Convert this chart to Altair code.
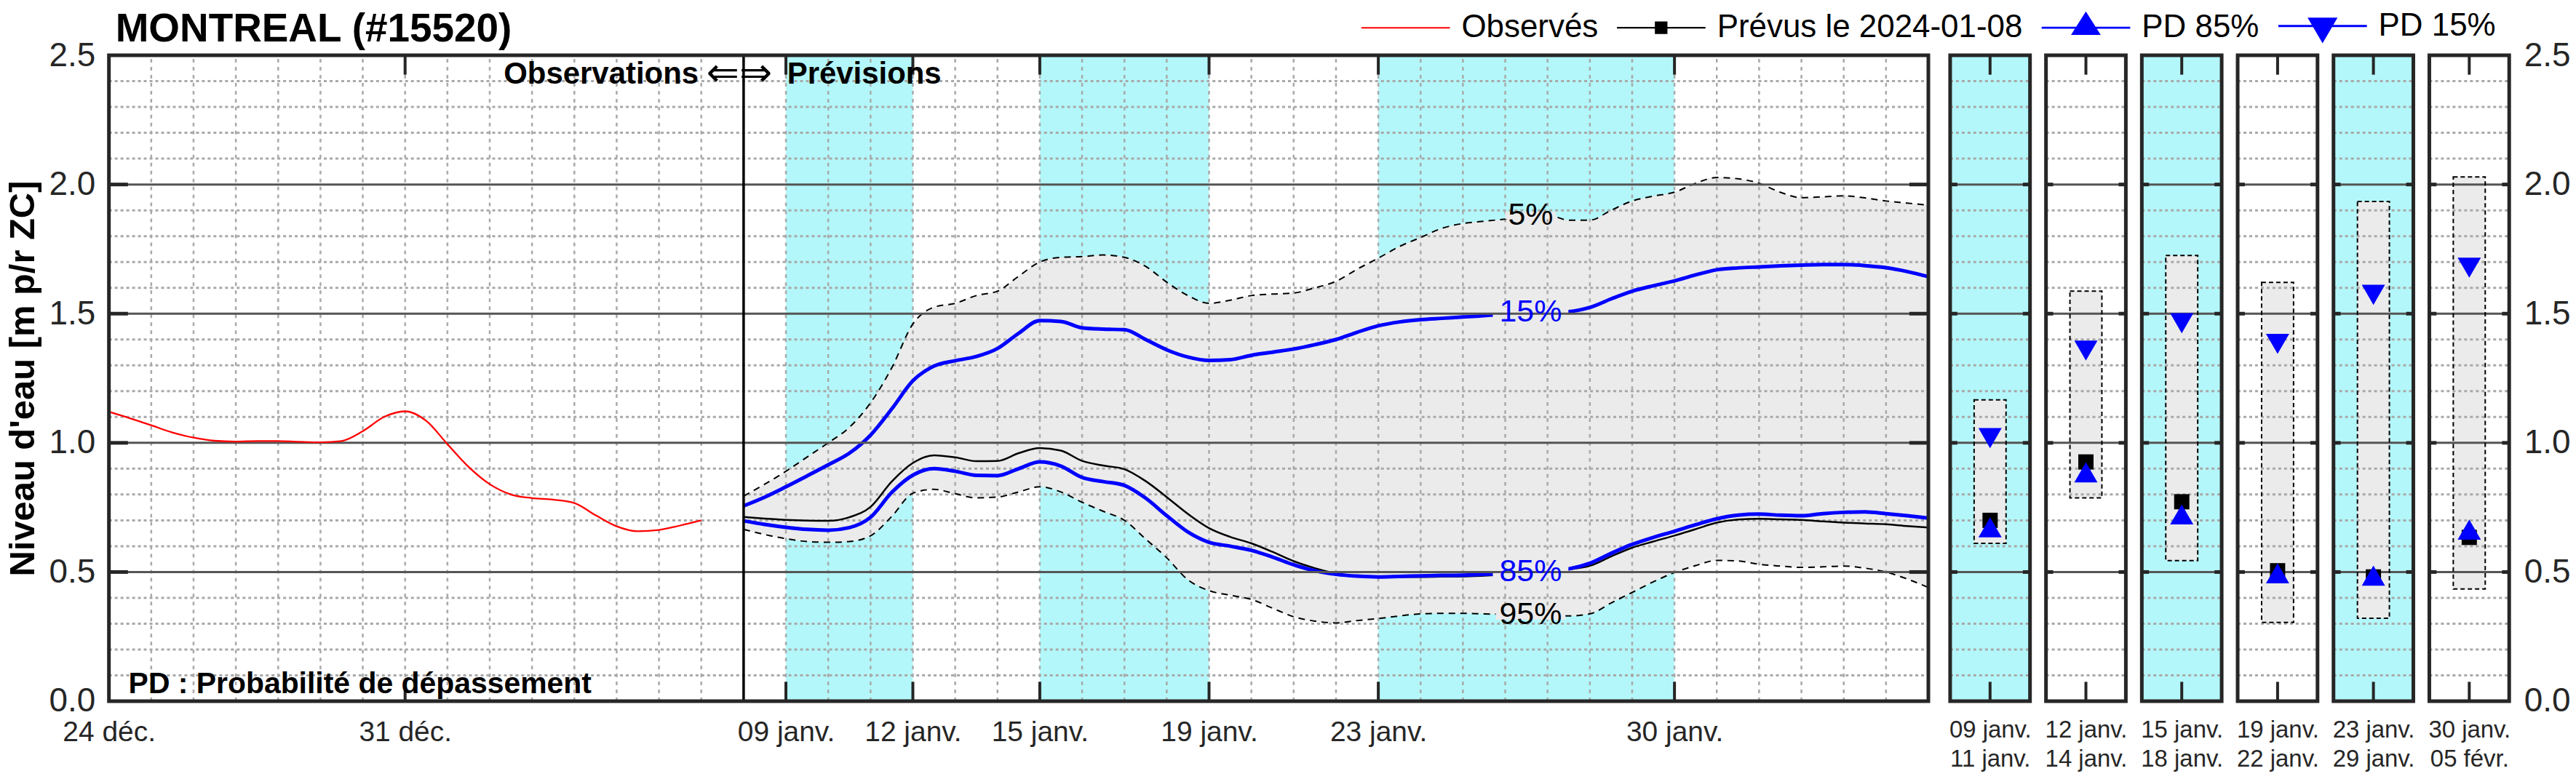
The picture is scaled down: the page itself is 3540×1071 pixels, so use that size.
import altair as alt
import pandas as pd

FONT = "Liberation Sans"
CYAN = "#b3f7fa"
GRAYFILL = "#ebebeb"
FRAME = "#262626"
BLUE = "#0000ff"

station_title = "MONTREAL (#15520)"
y_title = "Niveau d'eau [m p/r ZC]"

# ---- x ticks (days counted from 2023-12-24) ----
tick_days = [0, 7, 16, 19, 22, 26, 30, 37]
tick_labels = ["24 déc.", "31 déc.", "09 janv.", "12 janv.", "15 janv.", "19 janv.", "23 janv.", "30 janv."]
band_start = [16, 22, 30]
band_end = [19, 26, 37]
forecast_start_day = 15
x_end_day = 43

# ---- observed water level ----
obs_day = [0, 0.5, 1, 1.5, 2, 2.5, 3, 3.5, 4, 4.5, 5, 5.5, 6, 6.5, 7, 7.5, 8, 8.5, 9, 9.5,
           10, 10.5, 11, 11.5, 12, 12.5, 13, 13.5, 14]
obs_level = [1.12, 1.095, 1.068, 1.04, 1.02, 1.008, 1.005, 1.007, 1.007, 1.004, 1.002, 1.007,
             1.045, 1.10, 1.122, 1.085, 0.995, 0.907, 0.84, 0.80, 0.786, 0.78, 0.767, 0.72,
             0.677, 0.658, 0.663, 0.68, 0.70]

# ---- forecast (issued 2024-01-08), every 12 h ----
fc_day = [forecast_start_day + 0.5 * i for i in range(57)]
p5 = [0.794, 0.84, 0.89, 0.945, 1.0, 1.06, 1.155, 1.29, 1.46, 1.525, 1.54, 1.57, 1.587, 1.645,
      1.70, 1.718, 1.721, 1.727, 1.718, 1.683, 1.622, 1.57, 1.54, 1.552, 1.57, 1.576, 1.58, 1.60,
      1.625, 1.672, 1.715, 1.76, 1.795, 1.83, 1.849, 1.858, 1.866, 1.875, 1.882, 1.862, 1.862,
      1.90, 1.936, 1.955, 1.97, 2.005, 2.027, 2.022, 2.005, 1.97, 1.949, 1.952, 1.956, 1.948,
      1.936, 1.928, 1.92]
p15 = [0.756, 0.79, 0.83, 0.872, 0.915, 0.96, 1.03, 1.131, 1.24, 1.297, 1.318, 1.334, 1.365,
       1.424, 1.473, 1.47, 1.445, 1.44, 1.438, 1.40, 1.36, 1.332, 1.319, 1.322, 1.339, 1.351,
       1.363, 1.38, 1.40, 1.428, 1.453, 1.468, 1.477, 1.482, 1.487, 1.492, 1.498, 1.502, 1.505,
       1.508, 1.524, 1.557, 1.587, 1.608, 1.627, 1.65, 1.67, 1.677, 1.681, 1.685, 1.688, 1.69,
       1.69, 1.686, 1.678, 1.663, 1.643]
fc = [0.713, 0.707, 0.702, 0.699, 0.698, 0.712, 0.752, 0.85, 0.922, 0.952, 0.944, 0.929, 0.93,
      0.96, 0.98, 0.97, 0.93, 0.912, 0.898, 0.852, 0.79, 0.725, 0.67, 0.636, 0.611, 0.578, 0.542,
      0.515, 0.495, 0.485, 0.481, 0.481, 0.481, 0.482, 0.483, 0.486, 0.49, 0.496, 0.502, 0.51,
      0.524, 0.56, 0.594, 0.618, 0.641, 0.666, 0.691, 0.703, 0.706, 0.704, 0.702, 0.696, 0.691,
      0.688, 0.685, 0.678, 0.672]
p85 = [0.698, 0.684, 0.673, 0.665, 0.662, 0.672, 0.712, 0.808, 0.875, 0.9, 0.89, 0.874, 0.873,
       0.9, 0.926, 0.91, 0.866, 0.85, 0.835, 0.786, 0.718, 0.655, 0.615, 0.6, 0.584, 0.558, 0.528,
       0.505, 0.491, 0.484, 0.481, 0.483, 0.485, 0.487, 0.488, 0.491, 0.494, 0.499, 0.504, 0.512,
       0.534, 0.572, 0.607, 0.634, 0.658, 0.683, 0.706, 0.72, 0.724, 0.72, 0.718, 0.726, 0.731,
       0.733, 0.726, 0.718, 0.709]
p95 = [0.665, 0.645, 0.629, 0.618, 0.615, 0.618, 0.64, 0.715, 0.805, 0.82, 0.803, 0.787, 0.79,
       0.81, 0.83, 0.81, 0.77, 0.735, 0.70, 0.628, 0.555, 0.47, 0.428, 0.41, 0.394, 0.36, 0.327,
       0.31, 0.303, 0.312, 0.32, 0.33, 0.338, 0.34, 0.34, 0.338, 0.336, 0.335, 0.334, 0.33, 0.338,
       0.38, 0.421, 0.462, 0.498, 0.525, 0.545, 0.543, 0.53, 0.523, 0.518, 0.52, 0.523, 0.515,
       0.50, 0.473, 0.44]

# ---- curve labels ----
curve_label_text = ["5%", "15%", "85%", "95%"]
curve_label_level = [1.88, 1.505, 0.501, 0.334]
curve_label_color = ["black", BLUE, BLUE, "black"]
curve_label_gap = [70, 104, 104, 96]
curve_label_day = 33.6

# ---- period panels ----
panel_start = ["09 janv.", "12 janv.", "15 janv.", "19 janv.", "23 janv.", "30 janv."]
panel_end = ["11 janv.", "14 janv.", "18 janv.", "22 janv.", "29 janv.", "05 févr."]
panel_p5 = [1.166, 1.587, 1.725, 1.621, 1.934, 2.029]
panel_p95 = [0.611, 0.787, 0.544, 0.305, 0.321, 0.434]
panel_p15 = [1.018, 1.357, 1.463, 1.383, 1.573, 1.678]
panel_fc = [0.70, 0.926, 0.772, 0.505, 0.481, 0.634]
panel_p85 = [0.673, 0.886, 0.723, 0.495, 0.486, 0.664]
panel_cyan = [True, False, True, False, True, False]

# ---- legend ----
legend_names = ["Observés", "Prévus le 2024-01-08", "PD 85%", "PD 15%"]
legend_colors = ["#ff0000", "black", BLUE, BLUE]
legend_widths = [2, 3, 8, 8]
legend_paths = [
    "M-10.18,0L0.91,0",
    "M-10.18,0L0.91,0M-5.32,-0.68L-3.96,-0.68L-3.96,0.68L-5.32,0.68Z",
    "M-10.18,0L0.91,0M-6.28,0.77L-3.0,0.77L-4.64,-1.82Z",
    "M-10.18,0L0.91,0M-6.28,-0.91L-3.0,-0.91L-4.64,1.91Z",
]
GAP_PATH = "M-1,-0.14L1,-0.14L1,0.14L-1,0.14Z"

levels_major = [0.5, 1.0, 1.5, 2.0]
levels_minor = [round(0.1 * i, 1) for i in range(1, 25) if i % 5 != 0]
y_tick_values = [0, 0.5, 1.0, 1.5, 2.0, 2.5]

# ================= main chart =================
W, H = 2506, 890
xs = alt.Scale(domain=[0, x_end_day], nice=False, zero=False)
ys = alt.Scale(domain=[0, 2.5], nice=False, zero=False)

label_expr = ("[" + ",".join(f"'{l}'" for l in tick_labels) + "][indexof(["
              + ",".join(str(d) for d in tick_days) + "], datum.value)]")
x_axis = alt.Axis(values=tick_days, labelExpr=label_expr, title=None, grid=False, ticks=False,
                  domain=False, labelFontSize=39, labelPadding=24, labelFlush=False,
                  labelOverlap=False, labelColor=FRAME, labelFont=FONT)
y_axis = alt.Axis(values=y_tick_values, format=".1f", title=y_title, titleFontSize=49,
                  titleFontWeight="bold", titlePadding=10, titleColor="black", titleFont=FONT,
                  grid=False, ticks=False, domain=False, labelFontSize=46, labelPadding=19,
                  labelColor=FRAME, labelFont=FONT)


def X(field):
    return alt.X(field, type="quantitative", scale=xs, axis=x_axis)


def Y(field):
    return alt.Y(field, type="quantitative", scale=ys, axis=y_axis)


def XD(v):
    return alt.X(datum=v, scale=xs, axis=x_axis)


def YD(v):
    return alt.Y(datum=v, scale=ys, axis=y_axis)


df_obs = pd.DataFrame({"day": obs_day, "level": obs_level})
df_fc = pd.DataFrame({"day": fc_day, "p5": p5, "p15": p15, "fc": fc, "p85": p85, "p95": p95})
df_bands = pd.DataFrame({"s": band_start, "e": band_end})
df_days = pd.DataFrame({"day": list(range(1, x_end_day))})
df_minor = pd.DataFrame({"v": levels_minor})
df_major = pd.DataFrame({"v": levels_major})
df_ticks = pd.DataFrame({"day": tick_days[1:]})
df_curve_lab = pd.DataFrame({"day": [curve_label_day] * 4, "v": curve_label_level,
                             "t": curve_label_text, "c": curve_label_color,
                             "g": [w * w for w in curve_label_gap]})
df_leg = pd.DataFrame({"series": legend_names})

leg = alt.Legend(title=None, orient="none", legendX=1815, legendY=-63, direction="horizontal",
                 labelFontSize=44, labelFont=FONT, labelColor="black", symbolSize=484,
                 labelOffset=4, columnPadding=20, symbolLimit=0, labelLimit=2000)

layers = []
layers.append(alt.Chart(df_bands).mark_rect(color=CYAN).encode(
    x=X("s"), x2=alt.X2("e"), y=YD(0), y2=alt.Y2(datum=2.5)))
layers.append(alt.Chart(df_fc).mark_area(color=GRAYFILL, interpolate="monotone").encode(
    x=X("day"), y=Y("p5"), y2=alt.Y2("p95")))
layers.append(alt.Chart(df_days).mark_rule(color="#a9a9a9", strokeDash=[5, 6], strokeWidth=2.5).encode(
    x=X("day"), y=YD(0), y2=alt.Y2(datum=2.5)))
layers.append(alt.Chart(df_minor).mark_rule(color="#a9a9a9", strokeDash=[4, 4], strokeWidth=3).encode(
    y=Y("v"), x=XD(0), x2=alt.X2(datum=x_end_day)))
for f in ["p5", "p95"]:
    layers.append(alt.Chart(df_fc).mark_line(color="black", strokeDash=[9, 7], strokeWidth=2,
                                              interpolate="monotone").encode(x=X("day"), y=Y(f)))
layers.append(alt.Chart(df_fc).mark_line(color="black", strokeWidth=2.5, interpolate="monotone").encode(
    x=X("day"), y=Y("fc")))
for f in ["p15", "p85"]:
    layers.append(alt.Chart(df_fc).mark_line(color=BLUE, strokeWidth=5, interpolate="monotone").encode(
        x=X("day"), y=Y(f)))
# gaps in the curves where the percent labels sit
layers.append(alt.Chart(df_curve_lab).mark_point(shape=GAP_PATH, filled=True, color=GRAYFILL,
                                                 opacity=1).encode(
    x=X("day"), y=Y("v"), size=alt.Size("g:Q", scale=None)))
layers.append(alt.Chart(df_major).mark_rule(color="#555555", strokeWidth=3).encode(
    y=Y("v"), x=XD(0), x2=alt.X2(datum=x_end_day)))
layers.append(alt.Chart(df_obs).mark_line(color="#ff0000", strokeWidth=2.3, interpolate="monotone").encode(
    x=X("day"), y=Y("level")))
layers.append(alt.Chart(pd.DataFrame({"day": [forecast_start_day]})).mark_rule(
    color="black", strokeWidth=3.5).encode(x=X("day"), y=YD(0), y2=alt.Y2(datum=2.5)))
# inward ticks
layers.append(alt.Chart(df_ticks).mark_rule(color=FRAME, strokeWidth=4).encode(
    x=X("day"), y=YD(0), y2=alt.Y2(datum=0.075)))
layers.append(alt.Chart(df_ticks).mark_rule(color=FRAME, strokeWidth=4).encode(
    x=X("day"), y=YD(2.425), y2=alt.Y2(datum=2.5)))
layers.append(alt.Chart(df_major).mark_rule(color=FRAME, strokeWidth=5).encode(
    y=Y("v"), x=XD(0), x2=alt.X2(datum=0.45)))
layers.append(alt.Chart(df_major).mark_rule(color=FRAME, strokeWidth=5).encode(
    y=Y("v"), x=XD(x_end_day - 0.45), x2=alt.X2(datum=x_end_day)))
# annotations
layers.append(alt.Chart(pd.DataFrame({"day": [forecast_start_day]})).mark_text(
    text="Observations", align="right", baseline="middle", dx=-62, fontSize=42,
    fontWeight="bold", font=FONT, color="black").encode(x=X("day"), y=YD(2.427)))
layers.append(alt.Chart(pd.DataFrame({"day": [forecast_start_day]})).mark_text(
    text="⇐⇒", align="center", baseline="middle", dx=-6, fontSize=54,
    font="DejaVu Sans", color="black").encode(x=X("day"), y=YD(2.427)))
layers.append(alt.Chart(pd.DataFrame({"day": [forecast_start_day]})).mark_text(
    text="Prévisions", align="left", baseline="middle", dx=60, fontSize=42,
    fontWeight="bold", font=FONT, color="black").encode(x=X("day"), y=YD(2.427)))
layers.append(alt.Chart(pd.DataFrame({"day": [0]})).mark_text(
    text="PD : Probabilité de dépassement", align="left", baseline="middle", dx=27,
    fontSize=41, fontWeight="bold", font=FONT, color="black").encode(x=X("day"), y=YD(0.065)))
layers.append(alt.Chart(df_curve_lab).mark_text(
    align="center", baseline="middle", fontSize=43, font=FONT).encode(
    x=X("day"), y=Y("v"), text="t:N", color=alt.Color("c:N", scale=None)))
# station title (above the plot frame)
layers.append(alt.Chart(pd.DataFrame({"day": [0]})).mark_text(
    text=station_title, align="left", baseline="alphabetic", dx=9, dy=-19, fontSize=55,
    fontWeight="bold", font=FONT, color="black").encode(x=X("day"), y=YD(2.5)))
# frame
layers.append(alt.Chart(pd.DataFrame({"a": [0]})).mark_rect(
    fillOpacity=0, stroke=FRAME, strokeWidth=5).encode(
    x=XD(0), x2=alt.X2(datum=x_end_day), y=YD(0), y2=alt.Y2(datum=2.5)))
# legend carrier (points fall below the plotted range and are clipped)
layers.append(alt.Chart(df_leg).mark_point(clip=True, opacity=1).encode(
    x=XD(1), y=YD(-1),
    fill=alt.Fill("series:N", scale=alt.Scale(domain=legend_names, range=legend_colors), legend=leg),
    stroke=alt.Stroke("series:N", scale=alt.Scale(domain=legend_names, range=legend_colors), legend=leg),
    shape=alt.Shape("series:N", scale=alt.Scale(domain=legend_names, range=legend_paths), legend=leg),
    strokeWidth=alt.StrokeWidth("series:N", scale=alt.Scale(domain=legend_names, range=legend_widths),
                                legend=leg),
))

main = alt.layer(*layers).properties(width=W, height=H)

# ================= period panels =================
PW = 110
pxs = alt.Scale(domain=[0, 1], nice=False, zero=False)


def panel(i):
    lab = f"['{panel_start[i]}','{panel_end[i]}']"
    px_axis = alt.Axis(values=[0.5], labelExpr=lab, title=None, grid=False, ticks=False,
                       domain=False, labelFontSize=33, labelPadding=24, labelLineHeight=40,
                       labelFlush=False, labelOverlap=False, labelColor=FRAME, labelFont=FONT,
                       labelBaseline="top")
    if i == 5:
        py_axis = alt.Axis(values=y_tick_values, format=".1f", orient="right", title=None,
                           grid=False, ticks=False, domain=False, labelFontSize=46,
                           labelPadding=20, labelColor=FRAME, labelFont=FONT)
    else:
        py_axis = None

    def PX(f):
        return alt.X(f, type="quantitative", scale=pxs, axis=px_axis)

    def PY(f):
        return alt.Y(f, type="quantitative", scale=ys, axis=py_axis)

    def PXD(v):
        return alt.X(datum=v, scale=pxs, axis=px_axis)

    def PYD(v):
        return alt.Y(datum=v, scale=ys, axis=py_axis)

    d = pd.DataFrame({"c": [0.5], "p5": [panel_p5[i]], "p95": [panel_p95[i]],
                      "p15": [panel_p15[i]], "fc": [panel_fc[i]], "p85": [panel_p85[i]]})
    one = pd.DataFrame({"a": [0]})
    L = []
    L.append(alt.Chart(one).mark_rect(color=CYAN if panel_cyan[i] else "white").encode(
        x=PXD(0), x2=alt.X2(datum=1), y=PYD(0), y2=alt.Y2(datum=2.5)))
    L.append(alt.Chart(d).mark_rect(color=GRAYFILL).encode(
        x=PXD(0.3), x2=alt.X2(datum=0.7), y=PY("p95"), y2=alt.Y2("p5")))
    L.append(alt.Chart(df_minor).mark_rule(color="#a9a9a9", strokeDash=[4, 4], strokeWidth=3).encode(
        y=PY("v"), x=PXD(0), x2=alt.X2(datum=1)))
    L.append(alt.Chart(df_major).mark_rule(color="#555555", strokeWidth=3).encode(
        y=PY("v"), x=PXD(0), x2=alt.X2(datum=1)))
    L.append(alt.Chart(df_major).mark_rule(color=FRAME, strokeWidth=5).encode(
        y=PY("v"), x=PXD(0), x2=alt.X2(datum=0.09)))
    L.append(alt.Chart(df_major).mark_rule(color=FRAME, strokeWidth=5).encode(
        y=PY("v"), x=PXD(0.91), x2=alt.X2(datum=1)))
    L.append(alt.Chart(one).mark_rule(color=FRAME, strokeWidth=4).encode(
        x=PXD(0.5), y=PYD(0), y2=alt.Y2(datum=0.075)))
    L.append(alt.Chart(one).mark_rule(color=FRAME, strokeWidth=4).encode(
        x=PXD(0.5), y=PYD(2.425), y2=alt.Y2(datum=2.5)))
    L.append(alt.Chart(d).mark_rect(fillOpacity=0, stroke="black", strokeDash=[6, 4],
                                    strokeWidth=2).encode(
        x=PXD(0.3), x2=alt.X2(datum=0.7), y=PY("p95"), y2=alt.Y2("p5")))
    L.append(alt.Chart(d).mark_point(shape="square", filled=True, size=441, color="black",
                                     opacity=1).encode(x=PX("c"), y=PY("fc")))
    L.append(alt.Chart(d).mark_point(shape="triangle-up", filled=True, size=1024, color=BLUE,
                                     opacity=1).encode(x=PX("c"), y=PY("p85")))
    L.append(alt.Chart(d).mark_point(shape="triangle-down", filled=True, size=1024, color=BLUE,
                                     opacity=1).encode(x=PX("c"), y=PY("p15")))
    L.append(alt.Chart(one).mark_rect(fillOpacity=0, stroke=FRAME, strokeWidth=5).encode(
        x=PXD(0), x2=alt.X2(datum=1), y=PYD(0), y2=alt.Y2(datum=2.5)))
    return alt.layer(*L).properties(width=PW, height=H)


panels = alt.hconcat(*[panel(i) for i in range(6)], spacing=22, bounds="flush").resolve_scale(
    x="independent", y="independent")

chart = alt.hconcat(main, panels, spacing=30, bounds="flush").resolve_scale(
    x="independent", y="independent").properties(
    padding={"left": 0, "top": 4, "right": 0, "bottom": 0}
).configure(font=FONT).configure_view(stroke="transparent", strokeWidth=0)

chart.save("out.html", embed_options={"renderer": "svg", "actions": False})
